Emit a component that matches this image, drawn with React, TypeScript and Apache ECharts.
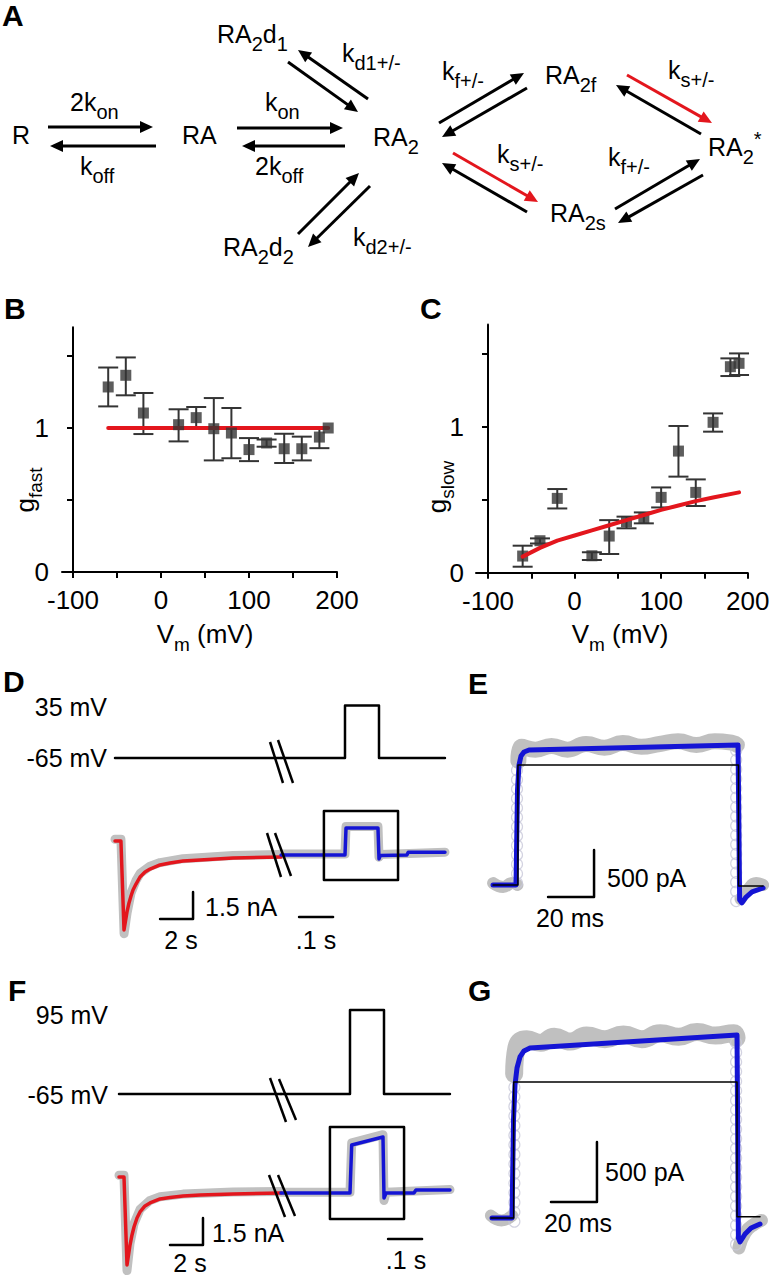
import React, { useEffect, useRef } from 'react';
import * as echarts from 'echarts';

const FONT = '"Liberation Sans", Arial, Helvetica, sans-serif';
const RED = '#e3161d';
const BLUE = '#1414d4';
const GRAY = '#c0c0c0';
const DARK = '#343434';
const CIRC = '#c8c8da';

// ---------- Panel B : g_fast vs Vm ----------
const vmB = [-60, -40, -20, 20, 40, 60, 80, 100, 120, 140, 160, 180, 190];
const gFast = [1.285, 1.366, 1.104, 1.023, 1.072, 0.995, 0.965, 0.85, 0.896, 0.856, 0.856, 0.937, 1.0];
const gFastHi = [1.42, 1.49, 1.243, 1.13, 1.146, 1.208, 1.139, 0.93, 0.92, 0.96, 0.94, 1.0, 1.0];
const gFastLo = [1.15, 1.227, 0.958, 0.907, 1.0, 0.775, 0.79, 0.77, 0.87, 0.757, 0.775, 0.86, 1.0];
const fitFastX = [-60, 190];
const fitFastY = [1, 1];

// ---------- Panel C : g_slow vs Vm ----------
const vmC = [-60, -40, -20, 20, 40, 60, 80, 100, 120, 140, 160, 180, 190];
const gSlow = [0.114, 0.219, 0.509, 0.116, 0.251, 0.349, 0.372, 0.516, 0.833, 0.55, 1.03, 1.411, 1.434];
const gSlowHi = [0.185, 0.235, 0.573, 0.14, 0.36, 0.384, 0.413, 0.584, 1.005, 0.639, 1.091, 1.468, 1.502];
const gSlowLo = [0.041, 0.2, 0.44, 0.087, 0.128, 0.304, 0.338, 0.447, 0.658, 0.457, 0.966, 1.347, 1.354];
const fitSlowX = [-60, -40, -20, 0, 20, 40, 60, 80, 100, 120, 140, 160, 190];
const fitSlowY = [0.11, 0.17, 0.22, 0.255, 0.29, 0.325, 0.36, 0.395, 0.43, 0.46, 0.49, 0.515, 0.55];

const xTicks = [-100, -50, 0, 50, 100, 150, 200];
const xLabels = [-100, 0, 100, 200];
const yTicks = [0, 0.5, 1, 1.5];
const yLabels = [0, 1];

// ---------- Panel D (35 mV step): time in s, voltage in mV, current in nA ----------
const dVoltLeft: number[][] = [[0, -65], [10.06, -65]];
const dVoltRight: number[][] = [[-0.188, -65], [0, -65], [0, 35], [0.1, 35], [0.1, -65], [0.294, -65]];
const dFitLeft: number[][] = [[0, 0], [0.36, 0], [0.545, -4.94], [0.636, -4.44], [0.727, -3.94], [0.848, -3.44], [0.97, -3.06], [1.091, -2.72], [1.273, -2.39], [1.515, -2.0], [1.818, -1.72], [2.121, -1.56], [2.727, -1.33], [3.333, -1.22], [4.121, -1.11], [5.152, -1.06], [7.152, -0.94], [10.06, -0.89]];
const dDataLeft: number[][] = [[0, 0.1], [0.36, 0.1], [0.55, -5.15], [0.73, -4.0], [0.97, -2.9], [1.27, -2.2], [1.52, -1.8], [2.12, -1.4], [2.73, -1.2], [4.12, -0.98], [7.15, -0.8], [10.06, -0.75]];
const dFitRight: number[][] = [[-0.188, -0.78], [0, -0.78], [0.003, 0.72], [0.097, 0.72], [0.1, -1.0], [0.104, -0.8], [0.182, -0.78], [0.186, -0.62], [0.294, -0.62]];
const dDataRight: number[][] = [[-0.188, -0.72], [0, -0.72], [0.003, 0.8], [0.097, 0.8], [0.1, -0.9], [0.104, -0.75], [0.294, -0.62]];
const dBox: number[][] = [[-0.062, 1.67], [0.156, 1.67], [0.156, -2.17], [-0.062, -2.17], [-0.062, 1.67]];
const dBarLeft: number[][] = [[2.73, -4.33], [4.73, -4.33], [4.73, -2.83]];
const dBarRight: number[][] = [[-0.135, -4.22], [-0.035, -4.22]];

// ---------- Panel E (zoom of D box): time in ms, current in nA ----------
const eFit: number[][] = [[-10.43, 0], [-0.43, 0], [0.22, 1.01], [0.87, 1.277], [1.74, 1.372], [3.04, 1.415], [5.22, 1.436], [96.1, 1.489], [96.8, -0.16], [97.8, -0.19], [99.6, -0.128], [102.2, -0.074], [107, -0.032]];
const ePulse: number[][] = [[-10.43, 0], [0.4, 0], [0.4, 1.277], [96.3, 1.277], [96.3, -0.01], [107, -0.01]];
const eDataBase: number[][] = [[-10.4, 0.02], [-6, -0.02], [-2, 0.02], [0.2, 0]];
const eDataTop: number[][] = [[0.6, 1.32], [2, 1.47], [8, 1.44], [15, 1.48], [22, 1.44], [30, 1.5], [38, 1.46], [46, 1.51], [54, 1.47], [62, 1.5], [70, 1.53], [78, 1.49], [86, 1.53], [94, 1.51], [95.6, 1.49]];
const eDataEnd: number[][] = [[97.2, -0.15], [100, -0.06], [104, 0.02], [107, 0.0]];
const eCircLeft = [0.02, 0.12, 0.22, 0.32, 0.42, 0.52, 0.62, 0.72, 0.82, 0.92, 1.02, 1.12, 1.22];
const eCircRight = [-0.17, -0.07, 0.03, 0.13, 0.23, 0.33, 0.43, 0.53, 0.63, 0.73, 0.83, 0.93, 1.03, 1.13, 1.23, 1.33, 1.43];
const eBar: number[][] = [[13.5, -0.128], [33.5, -0.128], [33.5, 0.372]];

// ---------- Panel F (95 mV step) ----------
const fVoltLeft: number[][] = [[0, -65], [9.818, -65]];
const fVoltRight: number[][] = [[-0.203, -65], [0, -65], [0, 95], [0.1, 95], [0.1, -65], [0.294, -65]];
const fFitLeft: number[][] = [[0, 0], [0.303, 0], [0.485, -4.89], [0.576, -4.33], [0.667, -3.78], [0.788, -3.22], [0.909, -2.78], [1.091, -2.28], [1.273, -1.94], [1.576, -1.61], [1.879, -1.44], [2.485, -1.22], [3.091, -1.14], [3.879, -1.06], [4.909, -1.0], [6.909, -0.94], [9.818, -0.89]];
const fDataLeft: number[][] = [[0, 0.1], [0.3, 0.1], [0.485, -5.2], [0.667, -3.7], [0.909, -2.6], [1.273, -1.8], [1.879, -1.3], [2.485, -1.1], [3.879, -0.95], [6.909, -0.83], [9.818, -0.8]];
const fFitRight: number[][] = [[-0.203, -0.89], [0, -0.89], [0.005, 1.78], [0.097, 2.22], [0.1, -1.17], [0.106, -0.89], [0.188, -0.89], [0.194, -0.72], [0.294, -0.72]];
const fDataRight: number[][] = [[-0.203, -0.85], [0, -0.85], [0.005, 1.9], [0.097, 2.35], [0.1, -1.3], [0.106, -0.85], [0.294, -0.7]];
const fBox: number[][] = [[-0.059, 2.78], [0.159, 2.78], [0.159, -2.33], [-0.059, -2.33], [-0.059, 2.78]];
const fBarLeft: number[][] = [[3.09, -3.78], [5.09, -3.78], [5.09, -2.28]];
const fBarRight: number[][] = [[0.112, -3.44], [0.212, -3.44]];

// ---------- Panel G (zoom of F box) ----------
const gFit: number[][] = [[-9.13, 0], [-0.43, 0], [0.22, 0.817], [0.87, 1.108], [1.74, 1.25], [3.04, 1.342], [4.78, 1.392], [7.39, 1.417], [97.4, 1.525], [98.0, -0.167], [98.7, -0.2], [100.9, -0.133], [103.5, -0.083], [107.4, -0.05]];
const gPulse: number[][] = [[-9.6, 0], [0.3, 0], [0.3, 1.133], [97.4, 1.133], [97.4, 0.01], [107.4, 0.01]];
const gDataBase: number[][] = [[-9.6, 0.02], [-5, -0.02], [-0.4, 0.02]];
const gDataTop: number[][] = [[0.5, 1.2], [1.5, 1.42], [6, 1.49], [12, 1.46], [18, 1.51], [25, 1.47], [32, 1.52], [40, 1.49], [48, 1.53], [56, 1.49], [64, 1.54], [72, 1.51], [80, 1.55], [88, 1.52], [96, 1.54], [97.2, 1.5]];
const gDataEnd: number[][] = [[98.2, -0.25], [101, -0.12], [105, -0.05], [108, -0.02]];
const gCircLeft = [-0.03, 0.05, 0.13, 0.21, 0.29, 0.37, 0.45, 0.53, 0.61, 0.69, 0.77, 0.85, 0.93, 1.01, 1.09];
const gCircRight = [-0.22, -0.14, -0.06, 0.02, 0.1, 0.18, 0.26, 0.34, 0.42, 0.5, 0.58, 0.66, 0.74, 0.82, 0.9, 0.98, 1.06, 1.14, 1.22, 1.3, 1.38, 1.46];
const gBar: number[][] = [[16.5, 0.133], [36.5, 0.133], [36.5, 0.633]];

// ---------- text helpers ----------
const mctx = document.createElement('canvas').getContext('2d') as CanvasRenderingContext2D;
function tw(s: string, size: number, bold = false) {
  mctx.font = `${bold ? 'bold ' : ''}${size}px ${FONT}`;
  return mctx.measureText(s).width;
}
function txt(text: string, x: number, y: number, size: number, o: any = {}) {
  return {
    type: 'text', x, y, rotation: o.rotation || 0, silent: true, z: 100,
    style: {
      text, fontSize: size, fontFamily: FONT, fontWeight: o.bold ? 'bold' : 'normal', fill: '#000',
      textAlign: o.align || 'left', textVerticalAlign: 'middle',
    },
  };
}
type Part = [string, number]; // 0 main, 1 subscript, 2 superscript
function composite(parts: Part[], x: number, cy: number, M: number, S: number, center = false, rotate = false) {
  const size = (k: number) => (k === 0 ? M : S);
  const off = (k: number) => (k === 1 ? 0.4 * M : k === 2 ? -0.32 * M : 0);
  const total = parts.reduce((a, p) => a + tw(p[0], size(p[1])), 0);
  const out: any[] = [];
  if (!rotate) {
    let cur = center ? x - total / 2 : x;
    for (const p of parts) {
      out.push(txt(p[0], cur, cy + off(p[1]), size(p[1])));
      cur += tw(p[0], size(p[1]));
    }
  } else {
    let cur = cy + total / 2;
    for (const p of parts) {
      out.push(txt(p[0], x + off(p[1]), cur, size(p[1]), { rotation: Math.PI / 2 }));
      cur -= tw(p[0], size(p[1]));
    }
  }
  return out;
}
function arrow(x1: number, y1: number, x2: number, y2: number, color: string) {
  const dx = x2 - x1, dy = y2 - y1, L = Math.hypot(dx, dy), ux = dx / L, uy = dy / L;
  const hl = 13, hw = 6;
  const bx = x2 - ux * hl, by = y2 - uy * hl;
  return [
    { type: 'line', silent: true, z: 90, shape: { x1, y1, x2: bx + ux * 2, y2: by + uy * 2 }, style: { stroke: color, lineWidth: 3 } },
    { type: 'polygon', silent: true, z: 90, shape: { points: [[x2, y2], [bx - uy * hw, by + ux * hw], [bx + uy * hw, by - ux * hw]] }, style: { fill: color } },
  ];
}
function seg(x1: number, y1: number, x2: number, y2: number) {
  return { type: 'line', silent: true, z: 90, shape: { x1, y1, x2, y2 }, style: { stroke: '#000', lineWidth: 2.5 } };
}

// ---------- scheme layout (panel A) ----------
const SM = 25, SS = 20;
const schemeTexts: [Part[], number, number][] = [
  [[['R', 0]], 12, 135],
  [[['2k', 0], ['on', 1]], 70, 102],
  [[['k', 0], ['off', 1]], 80, 166],
  [[['RA', 0]], 182, 135],
  [[['k', 0], ['on', 1]], 265, 102],
  [[['2k', 0], ['off', 1]], 255, 166],
  [[['RA', 0], ['2', 1]], 373, 137],
  [[['RA', 0], ['2', 1], ['d', 0], ['1', 1]], 217, 34],
  [[['k', 0], ['d1+/-', 1]], 342, 53],
  [[['RA', 0], ['2', 1], ['d', 0], ['2', 1]], 223, 247],
  [[['k', 0], ['d2+/-', 1]], 353, 237],
  [[['k', 0], ['f+/-', 1]], 442, 71],
  [[['RA', 0], ['2f', 1]], 545, 75],
  [[['k', 0], ['s+/-', 1]], 668, 70],
  [[['RA', 0], ['2', 1], ['*', 2]], 708, 147],
  [[['k', 0], ['s+/-', 1]], 497, 154],
  [[['RA', 0], ['2s', 1]], 550, 213],
  [[['k', 0], ['f+/-', 1]], 608, 157],
];
const schemeArrows: [number, number, number, number, string][] = [
  [48, 127, 153, 127, '#000'], [156, 146, 50, 146, '#000'],
  [237, 128, 343, 128, '#000'], [345, 146, 242, 146, '#000'],
  [288, 62, 358, 112, '#000'], [368, 99, 298, 50, '#000'],
  [298, 234, 359, 173, '#000'], [370, 186, 308, 247, '#000'],
  [439, 123, 524, 73, '#000'], [527, 88, 442, 137, '#000'],
  [627, 75, 712, 123, RED], [701, 134, 616, 85, '#000'],
  [453, 153, 538, 202, RED], [527, 212, 442, 163, '#000'],
  [615, 209, 700, 159, '#000'], [703, 175, 618, 223, '#000'],
];

function buildOption() {
  const grids = [
    { left: 62, top: 327.2, width: 275, height: 244.8 },
    { left: 476, top: 324.5, width: 271.7, height: 248.2 },
    { left: 115, top: 697.625, width: 166, height: 68.25 },
    { left: 281, top: 697.625, width: 164, height: 68.25 },
    { left: 115, top: 805, width: 166, height: 140.4 },
    { left: 281, top: 805, width: 164, height: 140.4 },
    { left: 490, top: 725.2, width: 278, height: 188 },
    { left: 119, top: 1002.125, width: 162, height: 99.75 },
    { left: 281, top: 1002.125, width: 169, height: 99.75 },
    { left: 119, top: 1119.4, width: 162, height: 162 },
    { left: 281, top: 1119.4, width: 169, height: 162 },
    { left: 490, top: 1020, width: 278, height: 246 },
  ].map((g) => ({ ...g, containLabel: false, outerBoundsMode: 'none', show: false }));

  const xr: [number, number][] = [
    [-112.5, 200], [-113.9, 200],
    [0, 10.06], [-0.1882, 0.2941], [0, 10.06], [-0.1882, 0.2941],
    [-11.739, 109.13],
    [0, 9.818], [-0.2029, 0.2941], [0, 9.818], [-0.2029, 0.2941],
    [-10, 110.87],
  ];
  const yr: [number, number][] = [
    [0, 1.7], [0, 1.7],
    [-80, 50], [-80, 50], [-5.8, 2], [-5.8, 2],
    [-0.3, 1.7],
    [-80, 110], [-80, 110], [-5.8, 3.2], [-5.8, 3.2],
    [-0.4, 1.65],
  ];
  const axisStyle = { show: true, onZero: false, lineStyle: { color: '#000', width: 2 } };
  const tickStyle = { show: true, length: 6, lineStyle: { color: '#000', width: 2 } };
  const labStyle = { color: '#000', fontSize: 26, fontFamily: FONT };
  const xAxis = xr.map((r, i) =>
    i < 2
      ? {
          type: 'value', gridIndex: i, min: r[0], max: r[1], axisLine: axisStyle,
          axisTick: { ...tickStyle, customValues: xTicks },
          axisLabel: { ...labStyle, margin: 15, customValues: xLabels },
          splitLine: { show: false },
        }
      : { type: 'value', gridIndex: i, min: r[0], max: r[1], show: false },
  );
  const yAxis = yr.map((r, i) =>
    i < 2
      ? {
          type: 'value', gridIndex: i, min: r[0], max: r[1], offset: i === 0 ? -11 : -12,
          axisLine: axisStyle,
          axisTick: { ...tickStyle, customValues: yTicks },
          axisLabel: { ...labStyle, margin: 24, customValues: yLabels },
          splitLine: { show: false },
        }
      : { type: 'value', gridIndex: i, min: r[0], max: r[1], show: false },
  );

  const ln = (idx: number, data: number[][], color: string, width: number, z: number, smooth: number | boolean = false) => ({
    type: 'line', xAxisIndex: idx, yAxisIndex: idx, data, symbol: 'none', showSymbol: false,
    clip: false, silent: true, z, animation: false, smooth,
    lineStyle: { color, width, cap: 'round', join: 'round' },
  });
  const circles = (idx: number, t: number, vals: number[]) => ({
    type: 'scatter', xAxisIndex: idx, yAxisIndex: idx, data: vals.map((v) => [t, v]),
    symbol: 'circle', symbolSize: 11, silent: true, z: 2, clip: false,
    itemStyle: { color: 'rgba(255,255,255,0)', borderColor: CIRC, borderWidth: 1.2 },
  });
  const errBars = (idx: number, xs: number[], lo: number[], hi: number[]) => ({
    type: 'custom', xAxisIndex: idx, yAxisIndex: idx, silent: true, z: 2, clip: false,
    data: xs.map((x, i) => [x, lo[i], hi[i]]),
    encode: { x: 0, y: [1, 2] },
    renderItem: (_p: any, api: any) => {
      const x = api.value(0), l = api.value(1), h = api.value(2);
      if (Math.abs(h - l) < 1e-6) return { type: 'group', children: [] };
      const a = api.coord([x, h]), b = api.coord([x, l]);
      const w = 10, st = { stroke: DARK, lineWidth: 2 };
      return {
        type: 'group',
        children: [
          { type: 'line', shape: { x1: a[0], y1: a[1], x2: b[0], y2: b[1] }, style: st },
          { type: 'line', shape: { x1: a[0] - w, y1: a[1], x2: a[0] + w, y2: a[1] }, style: st },
          { type: 'line', shape: { x1: b[0] - w, y1: b[1], x2: b[0] + w, y2: b[1] }, style: st },
        ],
      };
    },
  });
  const marks = (idx: number, xs: number[], ys: number[], z: number) => ({
    type: 'scatter', xAxisIndex: idx, yAxisIndex: idx, data: xs.map((x, i) => [x, ys[i]]),
    symbol: 'rect', symbolSize: 11, silent: true, z, itemStyle: { color: DARK },
  });
  const zip = (a: number[], b: number[]) => a.map((x, i) => [x, b[i]]);

  const series: any[] = [
    // B
    errBars(0, vmB, gFastLo, gFastHi),
    ln(0, zip(fitFastX, fitFastY), RED, 4, 3),
    marks(0, vmB, gFast, 4),
    // C
    errBars(1, vmC, gSlowLo, gSlowHi),
    marks(1, vmC, gSlow, 3),
    ln(1, zip(fitSlowX, fitSlowY), RED, 4, 5),
    // D
    ln(2, dVoltLeft, '#000', 2.5, 3),
    ln(3, dVoltRight, '#000', 2.5, 3),
    ln(4, dDataLeft, GRAY, 9, 1),
    ln(4, dFitLeft, RED, 3.5, 3),
    ln(4, dBarLeft, '#000', 2.5, 3),
    ln(5, dDataRight, GRAY, 9, 1),
    ln(5, dFitRight, BLUE, 3.5, 3),
    ln(5, dBox, '#000', 2.5, 4),
    ln(5, dBarRight, '#000', 2.5, 3),
    // E
    ln(6, eDataBase, GRAY, 12, 1, 0.5),
    ln(6, eDataTop, GRAY, 16, 1, 0.5),
    ln(6, eDataEnd, GRAY, 12, 1, 0.5),
    circles(6, 0, eCircLeft),
    circles(6, 95.3, eCircRight),
    ln(6, eFit, BLUE, 5, 3),
    ln(6, ePulse, '#000', 1.5, 4),
    ln(6, eBar, '#000', 2.5, 4),
    // F
    ln(7, fVoltLeft, '#000', 2.5, 3),
    ln(8, fVoltRight, '#000', 2.5, 3),
    ln(9, fDataLeft, GRAY, 9, 1),
    ln(9, fFitLeft, RED, 3.5, 3),
    ln(9, fBarLeft, '#000', 2.5, 3),
    ln(10, fDataRight, GRAY, 9, 1),
    ln(10, fFitRight, BLUE, 3.5, 3),
    ln(10, fBox, '#000', 2.5, 4),
    ln(10, fBarRight, '#000', 2.5, 3),
    // G
    ln(11, gDataBase, GRAY, 12, 1, 0.5),
    ln(11, gDataTop, GRAY, 18, 1, 0.5),
    ln(11, gDataEnd, GRAY, 13, 1, 0.5),
    circles(11, 0.6, gCircLeft),
    circles(11, 97.0, gCircRight),
    ln(11, gFit, BLUE, 5, 3),
    ln(11, gPulse, '#000', 1.5, 4),
    ln(11, gBar, '#000', 2.5, 4),
  ];

  const graphic: any[] = [];
  // panel letters
  const letters: [string, number, number][] = [
    ['A', 2, 15], ['B', 4, 308], ['C', 420, 308], ['D', 3, 681], ['E', 468, 683], ['F', 8, 990], ['G', 468, 990],
  ];
  letters.forEach(([l, x, y]) => graphic.push(txt(l, x, y, 30, { bold: true })));
  // scheme
  schemeTexts.forEach(([parts, x, y]) => graphic.push(...composite(parts, x, y, SM, SS)));
  schemeArrows.forEach(([a, b, c, d, col]) => graphic.push(...arrow(a, b, c, d, col)));
  // axis titles B, C
  graphic.push(...composite([['V', 0], ['m', 1], [' (mV)', 0]], 205, 634, 26, 19, true));
  graphic.push(...composite([['V', 0], ['m', 1], [' (mV)', 0]], 620, 634, 26, 19, true));
  graphic.push(...composite([['g', 0], ['fast', 1]], 25, 490, 26, 19, false, true));
  graphic.push(...composite([['g', 0], ['slow', 1]], 437, 487, 26, 19, false, true));
  // D labels
  graphic.push(txt('35 mV', 107, 707, 25, { align: 'right' }));
  graphic.push(txt('-65 mV', 107, 758, 25, { align: 'right' }));
  graphic.push(txt('1.5 nA', 205, 907, 25));
  graphic.push(txt('2 s', 181, 940, 25, { align: 'center' }));
  graphic.push(txt('.1 s', 316, 940, 25, { align: 'center' }));
  graphic.push(seg(270, 742, 283, 783), seg(278, 740, 293, 783));
  graphic.push(seg(267, 833, 281, 877), seg(275, 833, 291, 876));
  // E labels
  graphic.push(txt('500 pA', 607, 878, 25));
  graphic.push(txt('20 ms', 570, 918, 25, { align: 'center' }));
  // F labels
  graphic.push(txt('95 mV', 108, 1015, 25, { align: 'right' }));
  graphic.push(txt('-65 mV', 108, 1095, 25, { align: 'right' }));
  graphic.push(txt('1.5 nA', 212, 1233, 25));
  graphic.push(txt('2 s', 190, 1263, 25, { align: 'center' }));
  graphic.push(txt('.1 s', 406, 1260, 25, { align: 'center' }));
  graphic.push(seg(270, 1078, 286, 1122), seg(279, 1079, 296, 1120));
  graphic.push(seg(269, 1175, 285, 1217), seg(278, 1175, 295, 1216));
  // G labels
  graphic.push(txt('500 pA', 605, 1172, 25));
  graphic.push(txt('20 ms', 578, 1223, 25, { align: 'center' }));

  return {
    animation: false,
    backgroundColor: '#fff',
    textStyle: { fontFamily: FONT },
    grid: grids,
    xAxis,
    yAxis,
    series,
    graphic: { elements: graphic },
  };
}

export default function App() {
  const ref = useRef<HTMLDivElement>(null);
  useEffect(() => {
    const chart = echarts.init(ref.current as HTMLDivElement, null, { renderer: 'svg' });
    chart.setOption(buildOption() as any);
    return () => chart.dispose();
  }, []);
  return (
    <div
      ref={ref}
      style={{ position: 'absolute', left: 0, top: 0, width: 769, height: 1280, background: '#fff' }}
    />
  );
}
